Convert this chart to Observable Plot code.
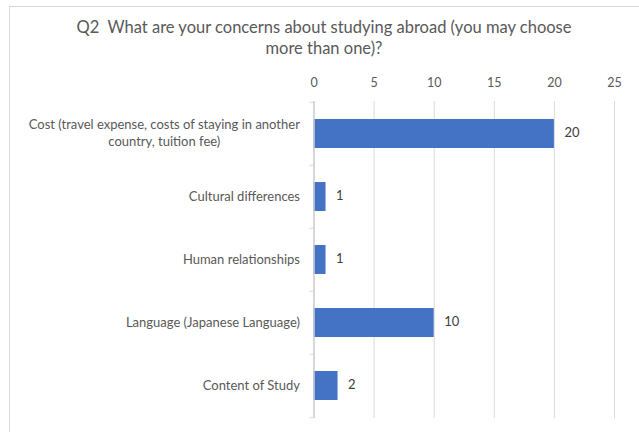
<!DOCTYPE html>
<html>
<head>
<meta charset="utf-8">
<script src="https://cdn.jsdelivr.net/npm/d3@7"></script>
<script src="https://cdn.jsdelivr.net/npm/@observablehq/plot@0.6"></script>
<style>
  html, body { margin: 0; padding: 0; background: #fff; }
  body { width: 639px; height: 432px; overflow: hidden; position: relative; font-family: Lato, "Open Sans", sans-serif; }
  #frame { position: absolute; left: 9px; top: 6px; width: 640px; height: 440px; border: 1px solid #d9d9d9; box-sizing: border-box; }
  #title { position: relative; width: 639px; padding-left: 9px; box-sizing: border-box; height: 66px; padding-top: 17px; text-align: center; color: #595959; font-size: 16.5px; line-height: 21px; }
  #chart svg { display: block; }
</style>
</head>
<body>
<div id="frame"></div>
<div id="title">Q2&nbsp; What are your concerns about studying abroad (you may choose<br>more than one)?</div>
<div id="chart"></div>
<script>
const categories = [
  "Cost (travel expense, costs of staying in another\ncountry, tuition fee)",
  "Cultural differences",
  "Human relationships",
  "Language (Japanese Language)",
  "Content of Study"
];
const counts = [20, 1, 1, 10, 2];
const xTicks = [0, 5, 10, 15, 20, 25];

const data = categories.map((c, i) => ({category: c, count: counts[i]}));

const plot = Plot.plot({
  width: 639,
  height: 366,
  marginTop: 35,
  marginBottom: 14,
  marginLeft: 313.5,
  marginRight: 25,
  style: {fontFamily: "Lato, 'Open Sans', sans-serif", fontSize: "12.5px", color: "#595959", background: "transparent"},
  x: {domain: [0, 25], ticks: xTicks},
  y: {domain: categories, paddingInner: 0.54, paddingOuter: 0.27},
  marks: [
    Plot.gridX(xTicks, {stroke: "#d9d9d9", strokeOpacity: 1, strokeWidth: 1}),
    Plot.axisX({anchor: "top", ticks: xTicks, tickSize: 0, tickPadding: 15, label: null, fill: "#595959", fontSize: 12.5}),
    Plot.axisY({anchor: "left", tickSize: 0, tickPadding: 14, label: null, fill: "#595959", lineHeight: 1.35, fontSize: 13, dy: -2}),
    Plot.axisY({anchor: "left", tickSize: 4, text: null, label: null, dy: -31.7, stroke: "#d9d9d9"}),
    Plot.axisY(categories.slice(-1), {anchor: "left", tickSize: 4, text: null, label: null, dy: 31.7, stroke: "#d9d9d9"}),
    Plot.barX(data, {x: "count", y: "category", fill: "#4472C4"}),
    Plot.ruleX([0], {stroke: "#d0d0d0", strokeWidth: 1.5}),
    Plot.text(data, {x: "count", y: "category", text: d => String(d.count), textAnchor: "start", dx: 10, dy: -1, fill: "#404040", fontSize: 13})
  ]
});
document.getElementById("chart").appendChild(plot);

// Excel centres the lines of a wrapped category label within its right-aligned box
plot.querySelectorAll("text").forEach(t => {
  const spans = t.querySelectorAll("tspan");
  if (spans.length > 1) {
    const bb = t.getBBox();
    t.setAttribute("text-anchor", "middle");
    spans.forEach(s => s.setAttribute("text-anchor", "middle"));
    const tr = t.getAttribute("transform") || "";
    t.setAttribute("transform", tr + ` translate(${-bb.width / 2},0)`);
  }
});
</script>
</body>
</html>
